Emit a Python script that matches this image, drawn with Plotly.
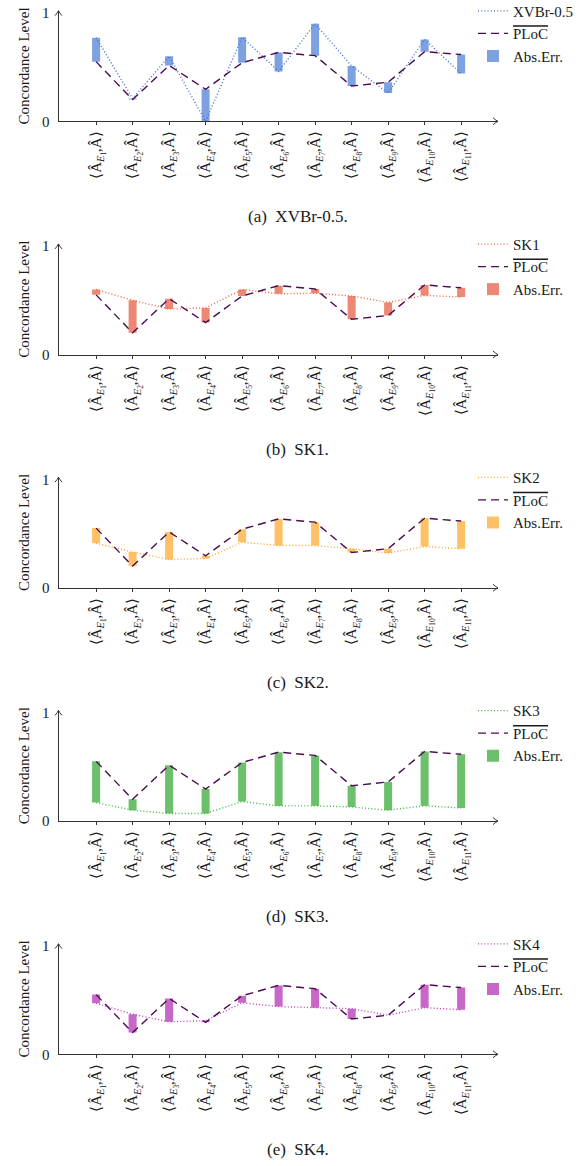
import numpy as np
import plotly.graph_objects as go

# ---------------- data ----------------
categories = [1, 2, 3, 4, 5, 6, 7, 8, 9, 10, 11]
tick_labels = [
    "⟨Â<sub><i>E</i><sub>1</sub></sub>,Â⟩",
    "⟨Â<sub><i>E</i><sub>2</sub></sub>,Â⟩",
    "⟨Â<sub><i>E</i><sub>3</sub></sub>,Â⟩",
    "⟨Â<sub><i>E</i><sub>4</sub></sub>,Â⟩",
    "⟨Â<sub><i>E</i><sub>5</sub></sub>,Â⟩",
    "⟨Â<sub><i>E</i><sub>6</sub></sub>,Â⟩",
    "⟨Â<sub><i>E</i><sub>7</sub></sub>,Â⟩",
    "⟨Â<sub><i>E</i><sub>8</sub></sub>,Â⟩",
    "⟨Â<sub><i>E</i><sub>9</sub></sub>,Â⟩",
    "⟨Â<sub><i>E</i><sub>10</sub></sub>,Â⟩",
    "⟨Â<sub><i>E</i><sub>11</sub></sub>,Â⟩",
]
ploc = [0.55, 0.20, 0.515, 0.295, 0.54, 0.635, 0.605, 0.325, 0.36, 0.642, 0.615]
xvbr = [0.77, 0.21, 0.60, 0.00, 0.775, 0.46, 0.90, 0.51, 0.26, 0.755, 0.44]
sk1 = [0.60, 0.50, 0.42, 0.43, 0.60, 0.56, 0.565, 0.54, 0.48, 0.545, 0.53]
sk2 = [0.41, 0.33, 0.26, 0.27, 0.42, 0.39, 0.39, 0.36, 0.32, 0.38, 0.36]
sk3 = [0.17, 0.10, 0.07, 0.07, 0.18, 0.14, 0.14, 0.13, 0.10, 0.14, 0.12]
sk4 = [0.47, 0.37, 0.30, 0.31, 0.475, 0.44, 0.43, 0.42, 0.36, 0.43, 0.41]

model_names = ["XVBr-0.5", "SK1", "SK2", "SK3", "SK4"]
model_values = [xvbr, sk1, sk2, sk3, sk4]
captions = ["(a)  XVBr-0.5.", "(b)  SK1.", "(c)  SK2.", "(d)  SK3.", "(e)  SK4."]

# ---------------- style ----------------
bar_colors = ["#7ea1e2", "#ec8874", "#ffc166", "#6cc06c", "#c767c7"]
line_colors = ["#3f6fd6", "#f0623f", "#ffa52a", "#3cb63c", "#bf3fbf"]
ploc_color = "#4a0c50"
FONT = "Liberation Serif"
TXT = "#1a1a1a"

W, H = 587, 1166
x_left, x_right = 58.5, 498.0
first_bottom, step = 121.3, 233.25
unit_px = 108.5
y_range = [0, 1.02]
x_range = [-0.03, 12.01]

fig = go.Figure()
layout = dict(
    width=W, height=H,
    margin=dict(l=0, r=0, t=0, b=0, autoexpand=False),
    paper_bgcolor="white", plot_bgcolor="white",
    font=dict(family=FONT, color=TXT, size=14),
    barmode="overlay", showlegend=True,
)
annotations = []
shapes = []

for k in range(5):
    sfx = "" if k == 0 else str(k + 1)
    xa, ya = "x" + sfx, "y" + sfx
    lg = "legend" + sfx
    bottom = first_bottom + step * k
    top = bottom - unit_px * y_range[1]
    m = np.array(model_values[k])
    p = np.array(ploc)

    fig.add_trace(go.Scatter(
        x=categories, y=m, mode="lines", name=model_names[k],
        line=dict(color=line_colors[k], width=1.4, dash="1px,2.2px"),
        xaxis=xa, yaxis=ya, legend=lg,
    ))
    fig.add_trace(go.Scatter(
        x=categories, y=p, mode="lines",
        name='<span style="text-decoration:overline">PLoC</span>',
        line=dict(color=ploc_color, width=1.4, dash="8px,5px"),
        xaxis=xa, yaxis=ya, legend=lg,
    ))
    fig.add_trace(go.Bar(
        x=categories, y=np.abs(m - p), base=np.minimum(m, p), name="Abs.Err.",
        width=0.22, marker=dict(color=bar_colors[k], line=dict(width=0)),
        xaxis=xa, yaxis=ya, legend=lg,
    ))

    layout["xaxis" + sfx] = dict(
        domain=[x_left / W, x_right / W], range=x_range, anchor=ya,
        tickmode="array", tickvals=categories, ticktext=tick_labels,
        tickangle=-90, ticks="outside", ticklen=3, tickcolor="#333",
        tickfont=dict(size=15, family=FONT, color=TXT),
        showline=True, linecolor="#333", linewidth=1,
        showgrid=False, zeroline=False, fixedrange=True, automargin=False,
    )
    layout["yaxis" + sfx] = dict(
        domain=[1 - bottom / H, 1 - top / H], range=y_range, anchor=xa,
        tickmode="array", tickvals=[0, 1], ticktext=["0", "1"],
        ticks="", tickfont=dict(size=15, family=FONT, color=TXT),
        ticklabelstandoff=5,
        showline=True, linecolor="#333", linewidth=1,
        showgrid=False, zeroline=False, fixedrange=True, automargin=False,
        title=dict(text="Concordance Level", standoff=8,
                   font=dict(size=15, family=FONT, color=TXT)),
    )
    layout[lg] = dict(
        x=473 / W, y=1 - (top - 16) / H, xanchor="left", yanchor="top",
        bgcolor="rgba(0,0,0,0)", font=dict(size=15, family=FONT, color=TXT),
        itemwidth=30, tracegroupgap=0, traceorder="normal",
    )
    annotations.append(dict(
        text=captions[k], xref="paper", yref="paper",
        x=298 / W, y=1 - (bottom + 95) / H, xanchor="center", yanchor="middle",
        showarrow=False, font=dict(size=17, family=FONT, color=TXT),
    ))
    # arrow heads at axis ends
    shapes.append(dict(
        type="path", xref=xa + " domain", yref=ya + " domain",
        xsizemode="pixel", ysizemode="pixel", xanchor=1, yanchor=0,
        path="M-5,3.5 Q-2,0.8 0,0 Q-2,-0.8 -5,-3.5",
        line=dict(color="#333", width=1),
    ))
    shapes.append(dict(
        type="path", xref=xa + " domain", yref=ya + " domain",
        xsizemode="pixel", ysizemode="pixel", xanchor=0, yanchor=1,
        path="M-3.5,-5 Q-0.8,-2 0,0 Q0.8,-2 3.5,-5",
        line=dict(color="#333", width=1),
    ))

layout["annotations"] = annotations
layout["shapes"] = shapes
fig.update_layout(**layout)
fig.write_html(
    "out.html",
    config={"displayModeBar": False, "staticPlot": True},
    post_script="document.body.style.margin='0px';",
)
